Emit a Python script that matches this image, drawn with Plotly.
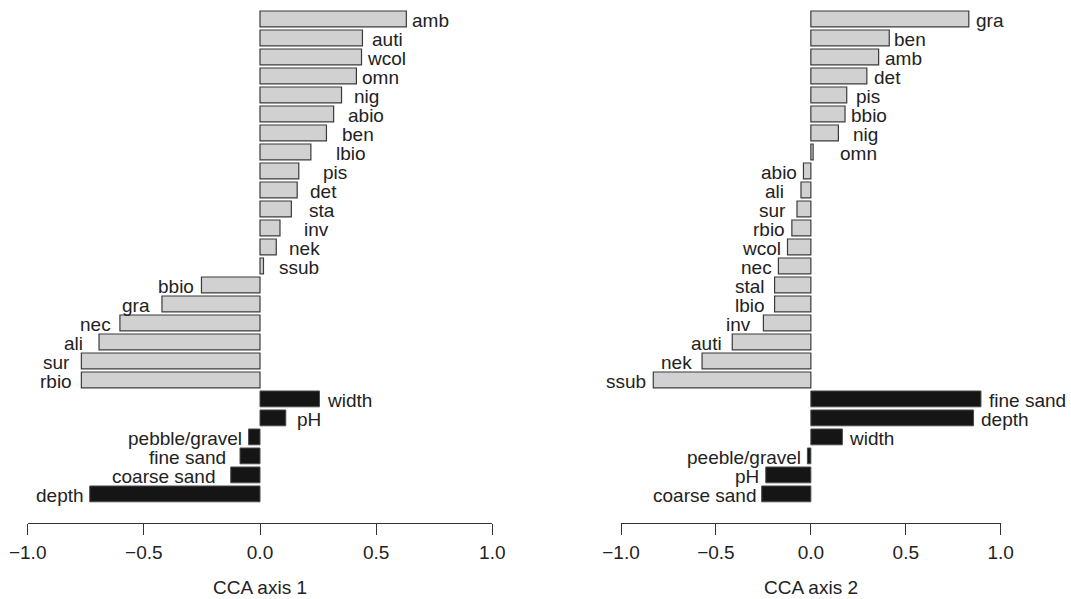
import plotly.graph_objects as go

# ---------------- data (top-to-bottom order) ----------------
axis1_traits = ["amb", "auti", "wcol", "omn", "nig", "abio", "ben", "lbio", "pis", "det",
                "sta", "inv", "nek", "ssub", "bbio", "gra", "nec", "ali", "sur", "rbio"]
axis1_trait_scores = [0.630, 0.441, 0.437, 0.415, 0.351, 0.317, 0.286, 0.219, 0.167, 0.160,
                      0.135, 0.086, 0.070, 0.015, -0.252, -0.422, -0.603, -0.693, -0.769, -0.769]
axis1_env = ["width", "pH", "pebble/gravel", "fine sand", "coarse sand", "depth"]
axis1_env_scores = [0.256, 0.111, -0.049, -0.086, -0.126, -0.733]

axis2_traits = ["gra", "ben", "amb", "det", "pis", "bbio", "nig", "omn", "abio", "ali",
                "sur", "rbio", "wcol", "nec", "stal", "lbio", "inv", "auti", "nek", "ssub"]
axis2_trait_scores = [0.832, 0.413, 0.357, 0.295, 0.189, 0.180, 0.145, 0.012, -0.039, -0.052,
                      -0.073, -0.100, -0.123, -0.171, -0.191, -0.191, -0.250, -0.414, -0.573, -0.830]
axis2_env = ["fine sand", "depth", "width", "peeble/gravel", "pH", "coarse sand"]
axis2_env_scores = [0.896, 0.857, 0.166, -0.018, -0.2375, -0.259]

tick_values = [-1.0, -0.5, 0.0, 0.5, 1.0]
tick_labels = ["\u22121.0", "\u22120.5", "0.0", "0.5", "1.0"]
axis_titles = ["CCA axis 1", "CCA axis 2"]

# ---------------- label nudges (pixels, styling only) ----------------
nudge1 = [4, 8, 3, 4, 10, 12, 14, 23, 22, 11, 16, 22, 11, 14, 5, 10, 7, 14, 9, 7,
          6, 9, 5, 12, 13, 4]
nudge2 = [5, 3, 4, 5, 7, 4, 13, 25, 4, 15, 9, 5, 5, 4, 8, 8, 10, 8, 8, 5,
          6, 5, 5, 4, 5, 3]

# body margin is removed in the page, so the figure fills the window exactly
OFF = 0
W, H = 1071, 599
FONT = "Liberation Sans, Arial, Helvetica, sans-serif"
FS = 19
TXT = "#222222"

GREY_FILL = "#d0d1d0"
GREY_LINE = "#3a3a3a"
BLACK_FILL = "#151515"
BLACK_LINE = "#4a4a4a"


def px_x(p):
    return (p - OFF) / W


def px_y(p):
    return 1 - (p - OFF) / H


pitch = 19.0
first_center = 18.9 - OFF
y_top = -first_center / pitch
y_bot = (H - first_center) / pitch

fig = go.Figure()

panels = [
    (axis1_traits, axis1_trait_scores, axis1_env, axis1_env_scores, nudge1, "x", "y"),
    (axis2_traits, axis2_trait_scores, axis2_env, axis2_env_scores, nudge2, "x2", "y2"),
]

annotations = []
for p, (tr, ts, en, es, nud, xa, ya) in enumerate(panels):
    n_tr = len(tr)
    y_tr = list(range(n_tr))
    y_en = list(range(n_tr, n_tr + len(en)))
    fig.add_trace(go.Bar(x=ts, y=y_tr, orientation="h", width=0.833,
                         marker=dict(color=GREY_FILL, line=dict(color=GREY_LINE, width=1.2)),
                         xaxis=xa, yaxis=ya, showlegend=False, hoverinfo="skip"))
    fig.add_trace(go.Bar(x=es, y=y_en, orientation="h", width=0.833,
                         marker=dict(color=BLACK_FILL, line=dict(color=BLACK_LINE, width=1)),
                         xaxis=xa, yaxis=ya, showlegend=False, hoverinfo="skip"))
    names = tr + en
    vals = ts + es
    for i, (nm, v) in enumerate(zip(names, vals)):
        pos = v >= 0
        annotations.append(dict(
            x=v, y=i, xref=xa, yref=ya, text=nm, showarrow=False,
            xanchor="left" if pos else "right", yanchor="middle",
            xshift=(nud[i] if pos else -nud[i]), yshift=-2,
            font=dict(family=FONT, size=FS, color=TXT)))
    annotations.append(dict(
        x=0, y=px_y(587), xref=xa, yref="paper", text=axis_titles[p], showarrow=False,
        xanchor="center", yanchor="middle", font=dict(family=FONT, size=FS, color=TXT)))

common_x = dict(range=[-1, 1], tickvals=tick_values, ticktext=tick_labels,
                showgrid=False, zeroline=False, showline=True, linecolor="#333333",
                linewidth=1, ticks="outside", ticklen=11, tickwidth=1, tickcolor="#333333",
                tickfont=dict(family=FONT, size=FS, color=TXT), anchor="free",
                position=px_y(523), fixedrange=True, automargin=False,
                ticklabelstandoff=1)
common_y = dict(range=[y_bot, y_top], visible=False, domain=[0, 1], fixedrange=True,
                automargin=False)

fig.update_layout(
    template="none",
    width=W, height=H,
    margin=dict(l=0, r=0, t=0, b=0, pad=0),
    paper_bgcolor="white", plot_bgcolor="white",
    xaxis=dict(domain=[px_x(27.7), px_x(492.3)], **common_x),
    xaxis2=dict(domain=[px_x(621.0), px_x(1000.7)], **common_x),
    yaxis=dict(anchor="x", **common_y),
    yaxis2=dict(anchor="x2", **common_y),
    annotations=annotations,
    barmode="overlay",
    showlegend=False,
    hovermode=False,
)

fig.write_html("out.html",
               config={"displayModeBar": False, "staticPlot": True},
               post_script="document.body.style.margin='0px';"
                           "document.body.style.overflow='hidden';")
